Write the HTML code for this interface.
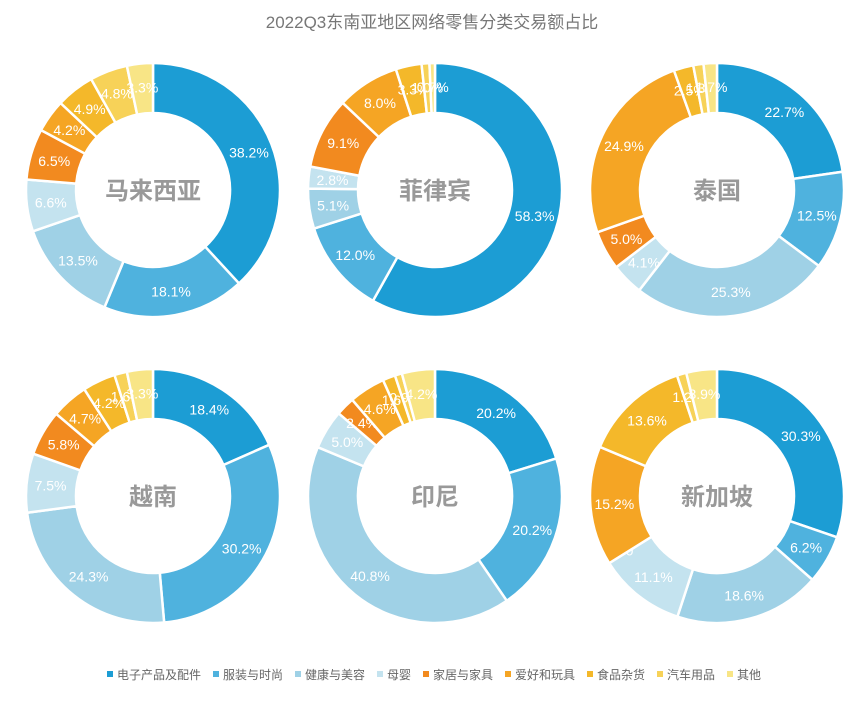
<!DOCTYPE html>
<html><head><meta charset="utf-8"><style>
body{margin:0;background:#fff;width:864px;height:700px;overflow:hidden;font-family:"Liberation Sans","Noto Sans CJK SC",sans-serif}
</style></head><body>
<svg id="chart" width="864" height="700" xmlns="http://www.w3.org/2000/svg">
<text x="432" y="28" text-anchor="middle" font-size="17" fill="#777" font-family="Liberation Sans, Noto Sans CJK SC, sans-serif">2022Q3东南亚地区网络零售分类交易额占比</text>
</svg>
<script>
const categories=["电子产品及配件","服装与时尚","健康与美容","母婴","家居与家具","爱好和玩具","食品杂货","汽车用品","其他"];
const colors=["#1c9dd4","#4fb2de","#9fd1e6","#c4e3ef","#f28a1f","#f5a524","#f4b82a","#f7d258","#f8e586"];
const countries=["马来西亚","菲律宾","泰国","越南","印尼","新加坡"];
const malaysia=[38.2,18.1,13.5,6.6,6.5,4.2,4.9,4.8,3.3];
const philippines=[58.3,12.0,5.1,2.8,9.1,8.0,3.3,1.0,0.7];
const thailand=[22.7,12.5,25.3,4.1,5.0,24.9,2.5,1.3,1.7];
const vietnam=[18.4,30.2,24.3,7.5,5.8,4.7,4.2,1.6,3.3];
const indonesia=[20.2,20.2,40.8,5.0,2.4,4.6,1.6,0.9,4.2];
const singapore=[30.3,6.2,18.6,11.1,0,15.2,13.6,1.2,3.9];
const series=[malaysia,philippines,thailand,vietnam,indonesia,singapore];
const NS="http://www.w3.org/2000/svg";
const svg=document.getElementById('chart');
const R=127,r=77,LR=103;
function pt(cx,cy,rad,a){return [cx+rad*Math.sin(a),cy-rad*Math.cos(a)];}
series.forEach((vals,i)=>{
  const cx=153+(i%3)*282, cy=190+Math.floor(i/3)*306;
  const tot=vals.reduce((s,v)=>s+v,0);
  let a0=0;
  const g=document.createElementNS(NS,'g');
  
  
  svg.appendChild(g);
  vals.forEach((v,j)=>{
    const a1=a0+v/tot*2*Math.PI;
    if(v>0){
      const large=(a1-a0)>Math.PI?1:0;
      const [x1,y1]=pt(cx,cy,R,a0),[x2,y2]=pt(cx,cy,R,a1),[x3,y3]=pt(cx,cy,r,a1),[x4,y4]=pt(cx,cy,r,a0);
      const p=document.createElementNS(NS,'path');
      p.setAttribute('d',`M${x1},${y1}A${R},${R} 0 ${large} 1 ${x2},${y2}L${x3},${y3}A${r},${r} 0 ${large} 0 ${x4},${y4}Z`);
      p.setAttribute('fill',colors[j]);p.setAttribute('stroke','#fff');p.setAttribute('stroke-width','2.5');
      
      
      g.appendChild(p);
    }
    const [lx,ly]=pt(cx,cy,LR,(a0+a1)/2);
    const t=document.createElementNS(NS,'text');
    t.setAttribute('x',lx);t.setAttribute('y',ly+5);t.setAttribute('text-anchor','middle');
    t.setAttribute('font-size','14');t.setAttribute('fill','#fff');
    t.textContent=v===0?'0':v.toFixed(1)+'%';
    
    
    g.appendChild(t);
    a0=a1;
  });
  const c=document.createElementNS(NS,'text');
  c.setAttribute('x',cx);c.setAttribute('y',cy+9);c.setAttribute('text-anchor','middle');
  c.setAttribute('font-size','24');c.setAttribute('font-weight','bold');c.setAttribute('fill','#999');
  c.textContent=countries[i];
  
  
  g.appendChild(c);
});
// legend
const widths=categories.map(s=>s.length*12+22);
const totalW=widths.reduce((a,b)=>a+b,0);
let lx=432-totalW/2+8;
categories.forEach((cname,j)=>{
  const rc=document.createElementNS(NS,'rect');
  rc.setAttribute('x',lx);rc.setAttribute('y',671);rc.setAttribute('width',6);rc.setAttribute('height',6);rc.setAttribute('fill',colors[j]);
  
  
  svg.appendChild(rc);
  const t=document.createElementNS(NS,'text');
  t.setAttribute('x',lx+10);t.setAttribute('y',679);t.setAttribute('font-size','12');t.setAttribute('fill','#666');
  t.textContent=cname;
  
  
  svg.appendChild(t);
  lx+=widths[j];
});
</script>
</body></html>
